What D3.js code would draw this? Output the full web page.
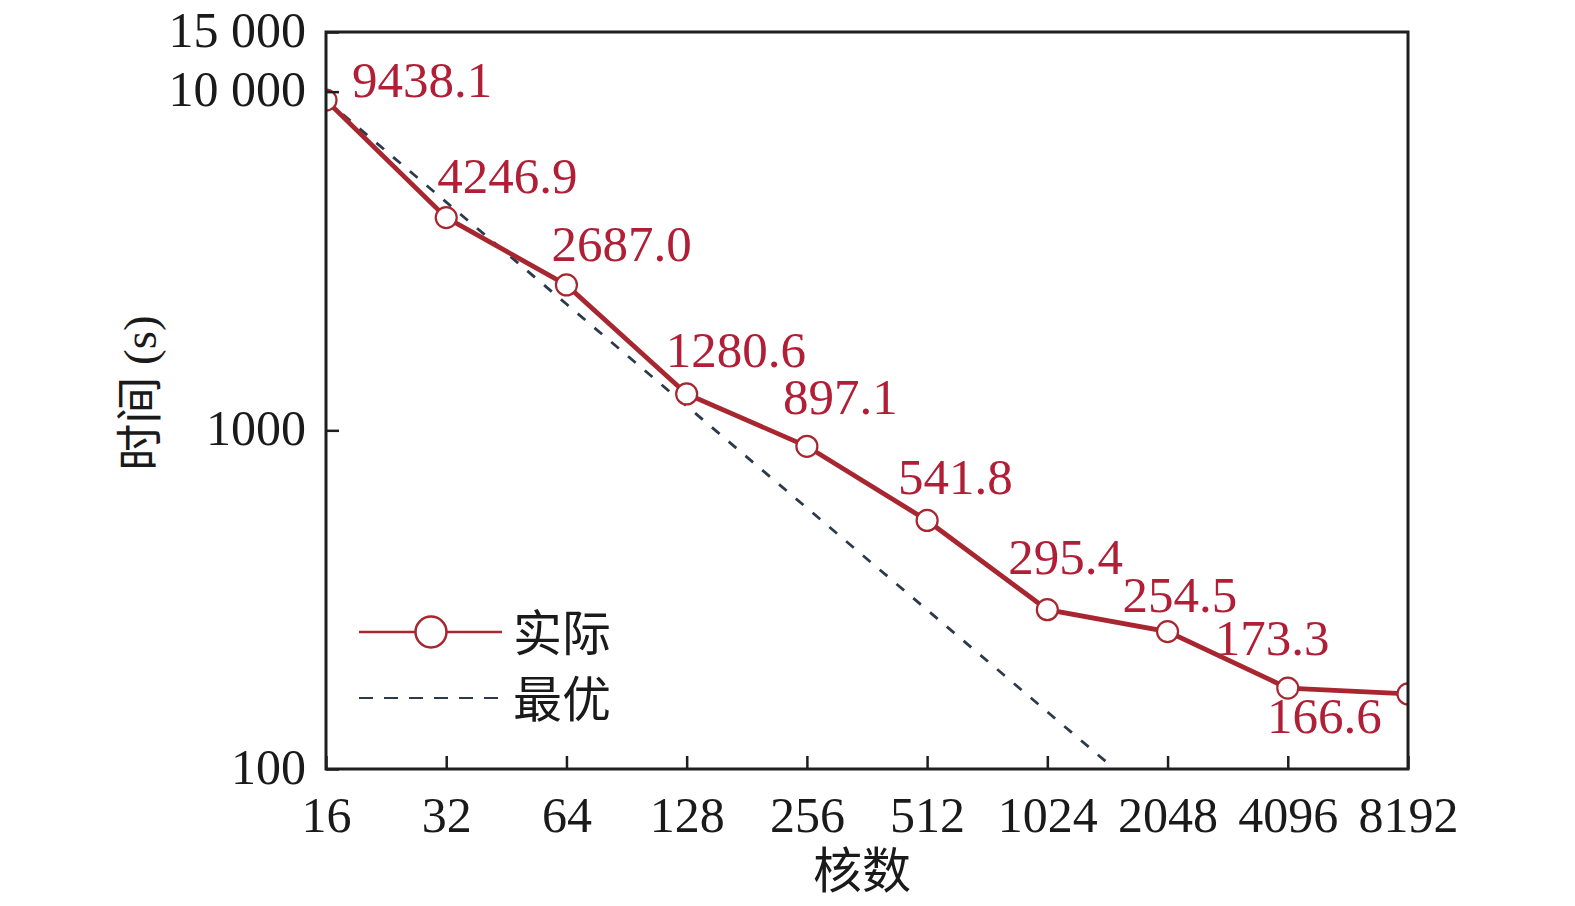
<!DOCTYPE html>
<html>
<head>
<meta charset="utf-8">
<script src="https://cdn.jsdelivr.net/npm/d3@7"></script>
<style>
  html, body { margin: 0; padding: 0; background: #ffffff; }
  svg { display: block; }
  text { font-family: "Liberation Serif", "Times New Roman", "Noto Sans CJK SC", serif; }
</style>
</head>
<body>
<svg id="chart" width="1575" height="906"></svg>
<script>
// ---- data ----
const cores = [16, 32, 64, 128, 256, 512, 1024, 2048, 4096, 8192];
const actualTimes = [9438.1, 4246.9, 2687.0, 1280.6, 897.1, 541.8, 295.4, 254.5, 173.3, 166.6];
const actualLabels = ["9438.1", "4246.9", "2687.0", "1280.6", "897.1", "541.8", "295.4", "254.5", "173.3", "166.6"];
const idealCores = [16, 32, 64, 128, 256, 512, 1024, 2048];
const idealTimes = [9438.1, 4719.1, 2359.5, 1179.8, 589.9, 294.9, 147.5, 73.7];
const yTickValues = [100, 1000, 10000, 15000];
const yTickLabels = ["100", "1000", "10 000", "15 000"];
const seriesNames = ["实际", "最优"];
const xTitle = "核数";
const yTitle = "时间 (s)";

// label offsets (px) relative to each point: [dx, dy]
const labelOffsets = [[26, -3], [-9, -25], [-15, -24], [-21, -27], [-24, -32], [-29, -26], [-39, -36], [-45, -20], [-73, -33], [-141, 39]];

// ---- layout ----
const pLeft = 326, pRight = 1408, pTop = 32, pBottom = 769;
const red = "#a8262f";
const labelRed = "#b01f36";
const navy = "#2b3a4c";
const axisCol = "#1e1e1e";

const svg = d3.select("#chart");

const x = d3.scaleLog().base(2).domain([16, 8192]).range([pLeft, pRight]);
const y = d3.scaleLog().base(10).domain([100, 15000]).range([pBottom, pTop]);

svg.append("defs").append("clipPath").attr("id", "plotClip")
  .append("rect").attr("x", pLeft).attr("y", pTop).attr("width", pRight - pLeft).attr("height", pBottom - pTop);

const plot = svg.append("g").attr("clip-path", "url(#plotClip)");

// ideal dashed line
const lineIdeal = d3.line().x(d => x(d[0])).y(d => y(d[1]));
plot.append("path")
  .datum(idealCores.map((c, i) => [c, idealTimes[i]]))
  .attr("d", lineIdeal)
  .attr("fill", "none")
  .attr("stroke", navy)
  .attr("stroke-width", 2.8)
  .attr("stroke-dasharray", "10,12");

// actual line
const lineAct = d3.line().x(d => x(d[0])).y(d => y(d[1]));
const actData = cores.map((c, i) => [c, actualTimes[i]]);
plot.append("path")
  .datum(actData)
  .attr("d", lineAct)
  .attr("fill", "none")
  .attr("stroke", red)
  .attr("stroke-width", 4.8);

plot.selectAll("circle.pt").data(actData).enter().append("circle")
  .attr("class", "pt")
  .attr("cx", d => x(d[0]))
  .attr("cy", d => y(d[1]))
  .attr("r", 10.5)
  .attr("fill", "#ffffff")
  .attr("stroke", red)
  .attr("stroke-width", 2.2);

// value labels
svg.selectAll("text.val").data(actData).enter().append("text")
  .attr("class", "val")
  .attr("x", (d, i) => x(d[0]) + labelOffsets[i][0])
  .attr("y", (d, i) => y(d[1]) + labelOffsets[i][1])
  .attr("fill", labelRed)
  .attr("font-size", 51)
  .text((d, i) => actualLabels[i]);

// frame
svg.append("rect")
  .attr("x", pLeft).attr("y", pTop).attr("width", pRight - pLeft).attr("height", pBottom - pTop)
  .attr("fill", "none").attr("stroke", axisCol).attr("stroke-width", 3);

// x axis
const xAxis = d3.axisBottom(x).tickValues(cores).tickFormat(d => String(d)).tickSizeInner(-13).tickSizeOuter(0).tickPadding(27);
const gx = svg.append("g").attr("transform", `translate(0,${pBottom})`).call(xAxis);
gx.select(".domain").remove();
gx.selectAll(".tick line").attr("stroke", axisCol).attr("stroke-width", 2.5);
gx.selectAll(".tick text").attr("font-size", 50).attr("fill", "#1a1a1a")
  .attr("font-family", "Liberation Serif, serif");

// y axis
const yAxis = d3.axisLeft(y).tickValues(yTickValues).tickFormat((d, i) => yTickLabels[i]).tickSizeInner(-13).tickSizeOuter(0).tickPadding(20);
const gy = svg.append("g").attr("transform", `translate(${pLeft},0)`).call(yAxis);
gy.select(".domain").remove();
gy.selectAll(".tick line").attr("stroke", axisCol).attr("stroke-width", 2.5);
gy.selectAll(".tick text").attr("font-size", 50).attr("fill", "#1a1a1a")
  .attr("dy", "0.28em")
  .attr("font-family", "Liberation Serif, serif");

// axis titles
svg.append("text")
  .attr("x", 862).attr("y", 888)
  .attr("text-anchor", "middle")
  .attr("font-size", 49)
  .attr("fill", "#1a1a1a")
  .attr("font-family", "Noto Sans CJK SC, sans-serif")
  .text(xTitle);

svg.append("text")
  .attr("transform", "translate(156,393) rotate(-90)")
  .attr("text-anchor", "middle")
  .attr("font-size", 47)
  .attr("fill", "#1a1a1a")
  .attr("font-family", "Liberation Serif, Noto Sans CJK SC, serif")
  .text(yTitle);

// legend
const lg = svg.append("g");
lg.append("line").attr("x1", 359).attr("x2", 502).attr("y1", 632).attr("y2", 632)
  .attr("stroke", red).attr("stroke-width", 2.5);
lg.append("circle").attr("cx", 431).attr("cy", 632).attr("r", 15.5)
  .attr("fill", "#ffffff").attr("stroke", red).attr("stroke-width", 2.5);
lg.append("text").attr("x", 513).attr("y", 651).attr("font-size", 49)
  .attr("fill", "#1a1a1a").attr("font-family", "Noto Sans CJK SC, sans-serif").text(seriesNames[0]);
lg.append("line").attr("x1", 359).attr("x2", 502).attr("y1", 698).attr("y2", 698)
  .attr("stroke", navy).attr("stroke-width", 2.2).attr("stroke-dasharray", "14,11");
lg.append("text").attr("x", 513).attr("y", 717).attr("font-size", 49)
  .attr("fill", "#1a1a1a").attr("font-family", "Noto Sans CJK SC, sans-serif").text(seriesNames[1]);
</script>
</body>
</html>
